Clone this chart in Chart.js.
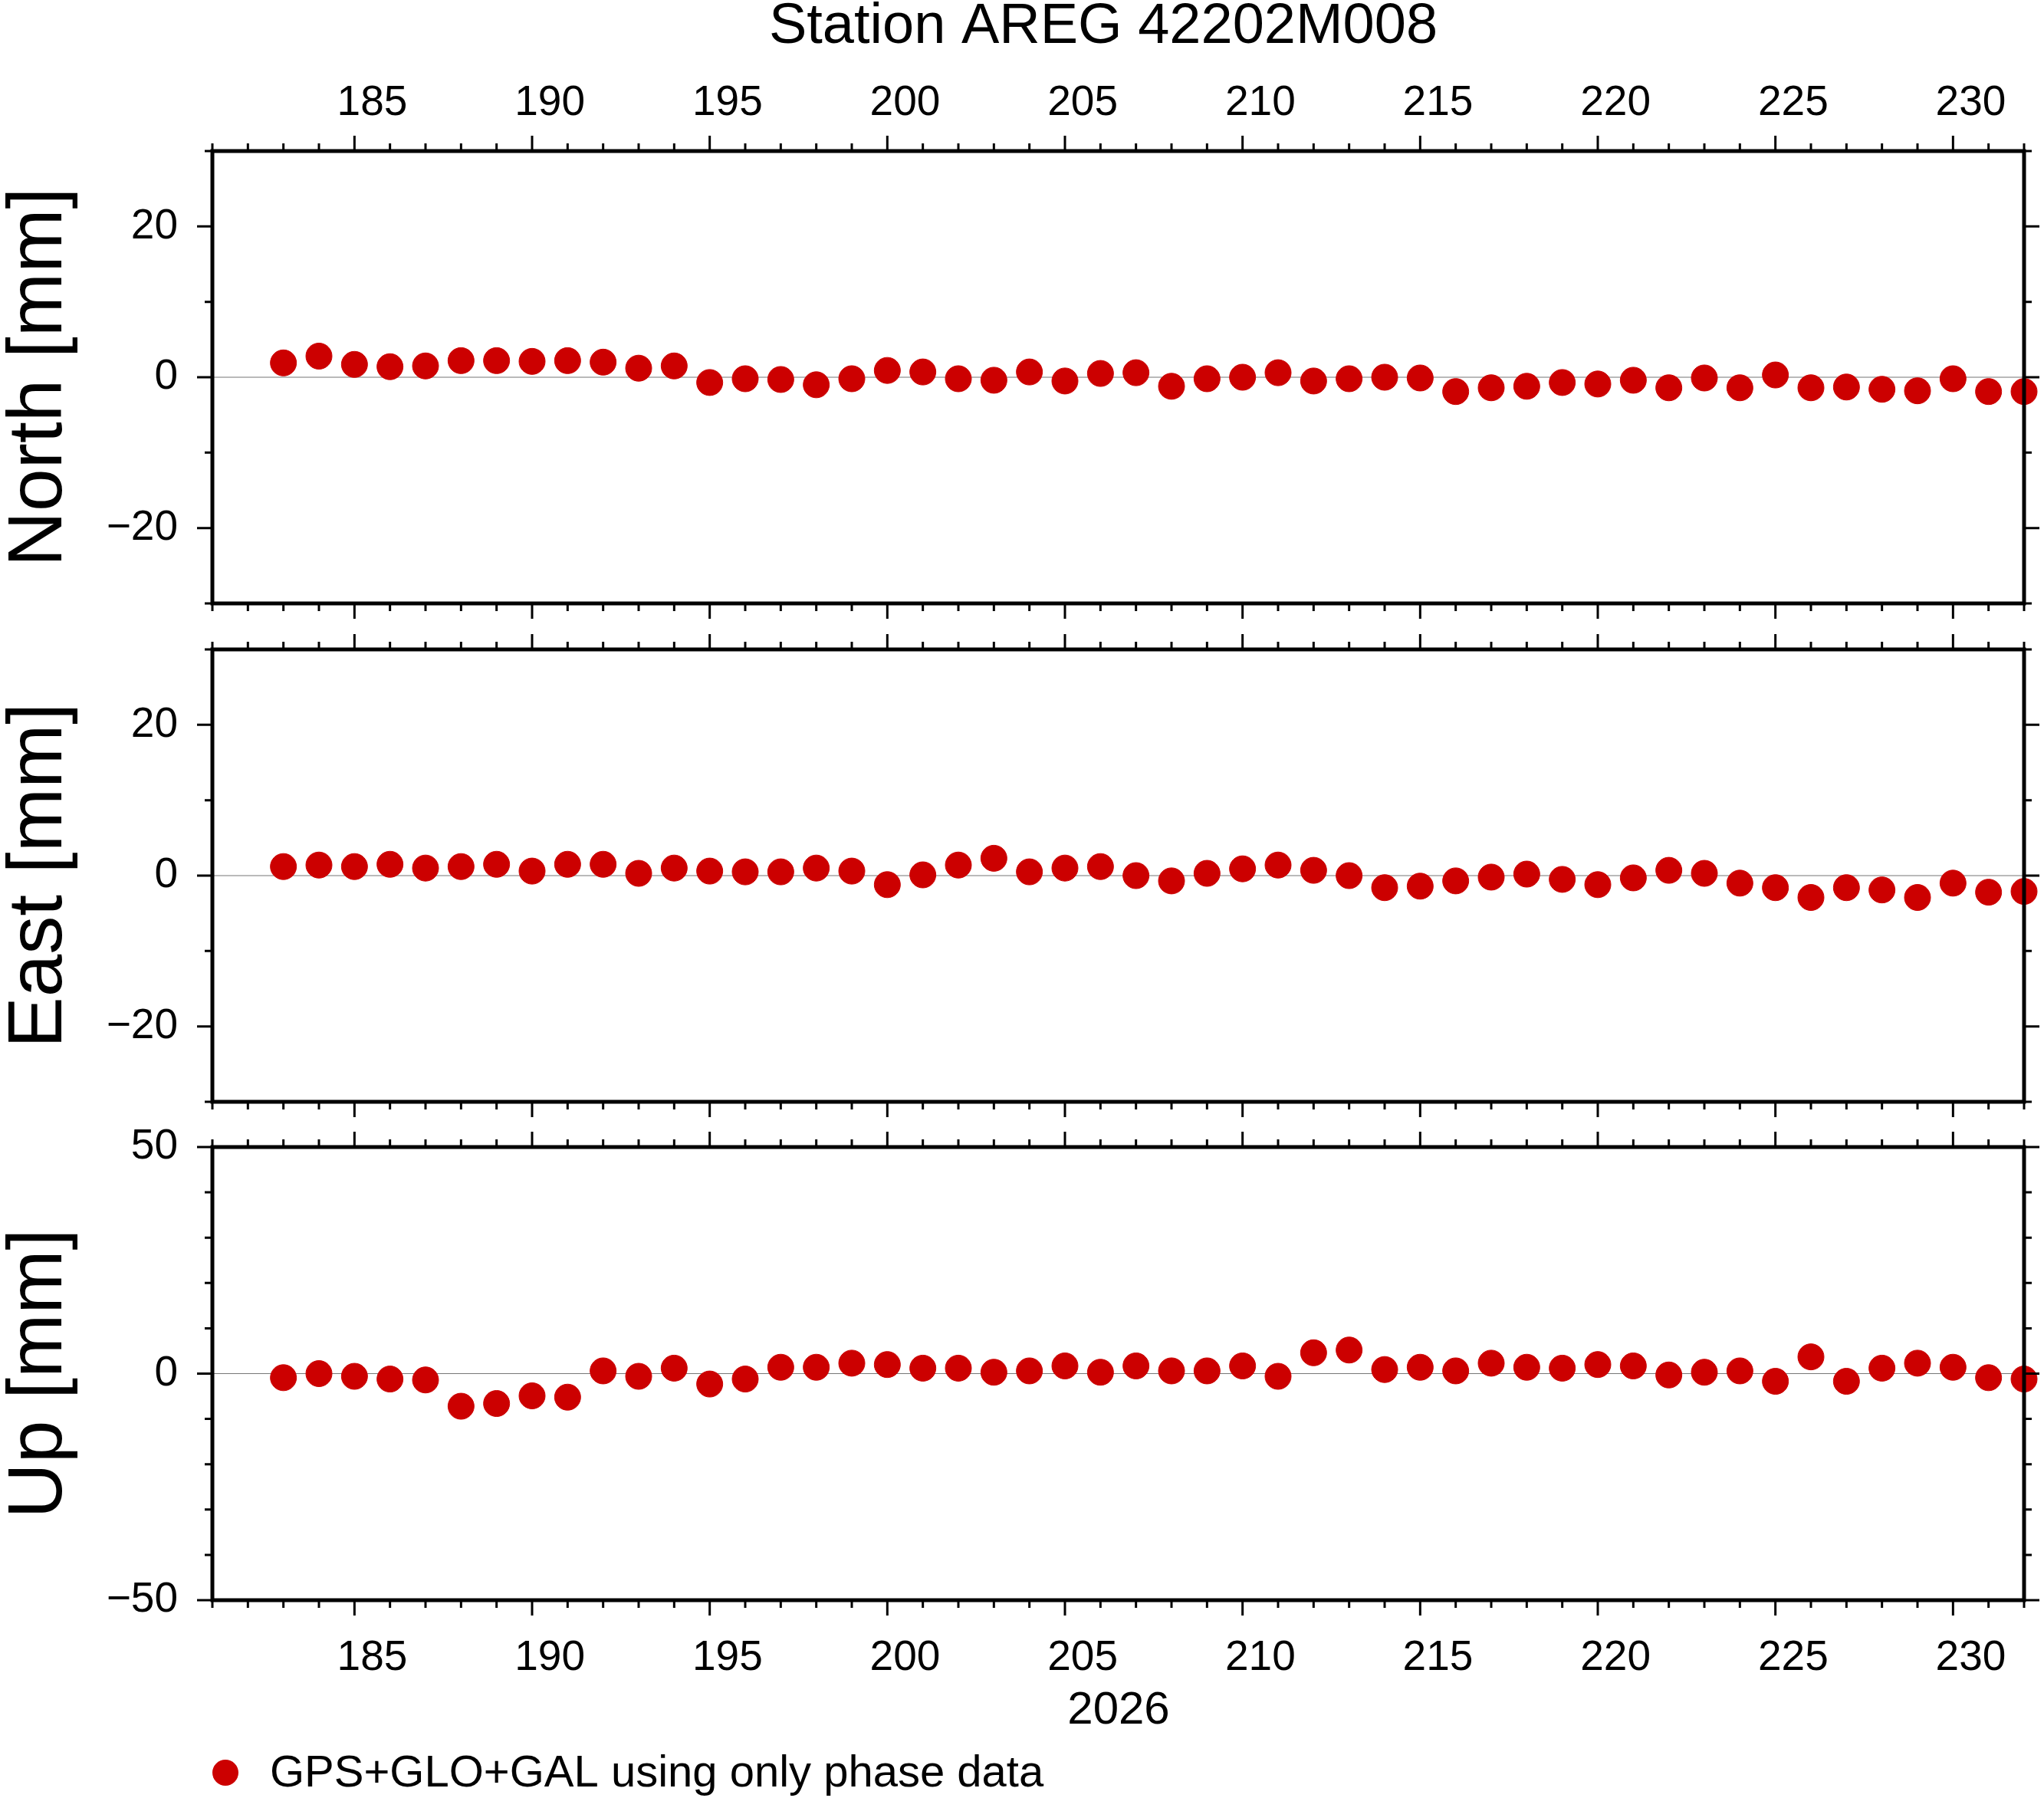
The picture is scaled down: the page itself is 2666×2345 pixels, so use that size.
<!DOCTYPE html>
<html><head><meta charset="utf-8">
<script src="https://cdn.jsdelivr.net/npm/chart.js@4"></script>
<style>html,body{margin:0;padding:0;background:#fff;width:2666px;height:2345px;overflow:hidden}
canvas{position:absolute;left:0;top:0}</style></head>
<body>
<canvas id="c0" width="2666" height="2345"></canvas>
<canvas id="c1" width="2666" height="2345"></canvas>
<canvas id="c2" width="2666" height="2345"></canvas>
<script>
const days=[];for(let d=183;d<=232;d++)days.push(d);
const north=[1.9,2.8,1.7,1.4,1.5,2.2,2.2,2.1,2.2,2.0,1.2,1.5,-0.7,-0.2,-0.3,-1.0,-0.2,0.9,0.7,-0.2,-0.4,0.7,-0.5,0.5,0.6,-1.2,-0.2,0,0.6,-0.5,-0.2,0,-0.1,-1.9,-1.4,-1.2,-0.7,-0.9,-0.4,-1.4,-0.1,-1.4,0.3,-1.4,-1.3,-1.6,-1.8,-0.2,-1.9,-1.9];
const east=[1.2,1.4,1.2,1.5,1.0,1.2,1.5,0.6,1.5,1.5,0.3,1.0,0.6,0.5,0.5,1.0,0.6,-1.2,0.1,1.4,2.3,0.5,1.0,1.2,0,-0.7,0.3,0.9,1.4,0.7,0,-1.6,-1.4,-0.7,-0.2,0.2,-0.5,-1.2,-0.3,0.7,0.3,-1.0,-1.6,-2.9,-1.6,-1.9,-2.9,-1.0,-2.2,-2.1];
const up=[-0.9,0,-0.6,-1.2,-1.4,-7.2,-6.6,-4.9,-5.2,0.6,-0.6,1.2,-2.3,-1.2,1.4,1.4,2.3,2.0,1.2,1.2,0.3,0.6,1.7,0.3,1.7,0.6,0.6,1.7,-0.6,4.6,5.2,0.9,1.4,0.6,2.3,1.4,1.2,2.0,1.7,-0.3,0.3,0.6,-1.7,3.7,-1.7,1.2,2.3,1.4,-0.9,-1.2];
const xTicks=[185,190,195,200,205,210,215,220,225,230];
const nTicks=[-20,0,20], uTicks=[-50,0,50];
const FONT='"Liberation Sans", Arial, sans-serif';
const panels=[
 {id:'c0',data:north,top:197,bottom:787,min:-30,max:30,ticks:nTicks,minor:10,title:'North [mm]',topLabels:true},
 {id:'c1',data:east,top:847,bottom:1437,min:-30,max:30,ticks:nTicks,minor:10,title:'East [mm]'},
 {id:'c2',data:up,top:1496,bottom:2087,min:-50,max:50,ticks:uTicks,minor:10,title:'Up [mm]',bottomLabels:true}
];
const L=277,R=2640;
function fmt(v){return v<0?'\u2212'+Math.abs(v):String(v);}
panels.forEach(p=>{
 const deco={id:'deco',
  beforeDatasetsDraw(ch){
   const ctx=ch.ctx,a=ch.chartArea,y=ch.scales.y;
   ctx.save();ctx.strokeStyle='#777';ctx.lineWidth=1.2;
   const y0=y.getPixelForValue(0);ctx.beginPath();ctx.moveTo(a.left,y0);ctx.lineTo(a.right,y0);ctx.stroke();ctx.restore();
  },
  afterDatasetsDraw(ch){
   const ctx=ch.ctx,a=ch.chartArea,x=ch.scales.x,y=ch.scales.y;
   ctx.save();ctx.strokeStyle='#000';ctx.fillStyle='#000';
   ctx.lineWidth=5;ctx.strokeRect(a.left,a.top,a.right-a.left,a.bottom-a.top);
   ctx.lineWidth=3;ctx.beginPath();
   for(let d=181;d<=232;d++){const px=x.getPixelForValue(d);const len=d%5===0?20:10;
     ctx.moveTo(px,a.top);ctx.lineTo(px,a.top-len);ctx.moveTo(px,a.bottom);ctx.lineTo(px,a.bottom+len);}
   for(let v=p.min;v<=p.max;v+=p.minor){const py=y.getPixelForValue(v);const len=p.ticks.includes(v)?20:10;
     ctx.moveTo(a.left,py);ctx.lineTo(a.left-len,py);ctx.moveTo(a.right,py);ctx.lineTo(a.right+len,py);}
   ctx.stroke();
   ctx.font='55px '+FONT;ctx.textAlign='right';ctx.textBaseline='middle';
   p.ticks.forEach(v=>ctx.fillText(fmt(v),a.left-45,y.getPixelForValue(v)));
   ctx.textAlign='center';
   if(p.topLabels){ctx.textBaseline='alphabetic';xTicks.forEach(d=>ctx.fillText(String(d),x.getPixelForValue(d+0.5),150));}
   if(p.bottomLabels){ctx.textBaseline='alphabetic';xTicks.forEach(d=>ctx.fillText(String(d),x.getPixelForValue(d+0.5),2178));
     ctx.font='60px '+FONT;ctx.fillText('2026',1459,2248);}
   ctx.save();ctx.translate(80,(a.top+a.bottom)/2);ctx.rotate(-Math.PI/2);ctx.font='100px '+FONT;ctx.textBaseline='alphabetic';ctx.fillText(p.title,0,0);ctx.restore();
   if(p.topLabels){ctx.font='74px '+FONT;ctx.textBaseline='alphabetic';ctx.fillText('Station AREG 42202M008',1439,56);}
   if(p.bottomLabels){ctx.beginPath();ctx.fillStyle='#cc0000';ctx.arc(294,2312,17,0,Math.PI*2);ctx.fill();
     ctx.fillStyle='#000';ctx.font='58px '+FONT;ctx.textAlign='left';ctx.textBaseline='middle';ctx.fillText('GPS+GLO+GAL using only phase data',352,2314);}
   ctx.restore();
  }};
 new Chart(document.getElementById(p.id),{type:'scatter',
  data:{datasets:[{data:days.map((d,i)=>({x:d,y:p.data[i]})),backgroundColor:'#cc0000',borderColor:'#cc0000',pointRadius:17,pointHoverRadius:17,clip:false}]},
  options:{responsive:false,animation:false,devicePixelRatio:1,events:[],
   layout:{padding:{left:L,right:2666-R,top:p.top,bottom:2345-p.bottom}},
   plugins:{legend:{display:false},tooltip:{enabled:false}},
   scales:{x:{type:'linear',min:181,max:232,display:false},y:{type:'linear',min:p.min,max:p.max,display:false}}},
  plugins:[deco]});
});
</script></body></html>
